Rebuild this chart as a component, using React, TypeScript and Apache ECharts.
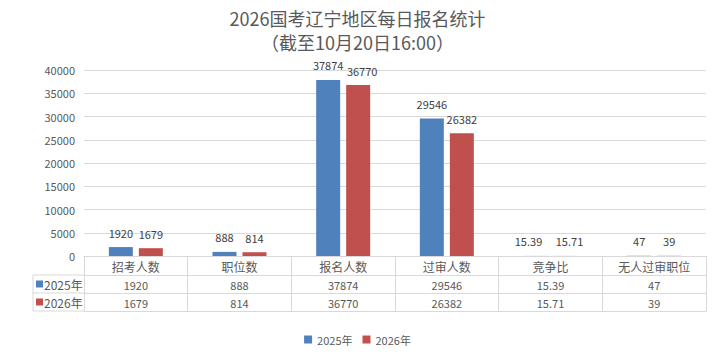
import React, { useEffect, useRef } from "react";
import * as echarts from "echarts";

const categories = ["招考人数", "职位数", "报名人数", "过审人数", "竞争比", "无人过审职位"];
const seriesNames = ["2025年", "2026年"];
const values2025 = [1920, 888, 37874, 29546, 15.39, 47];
const values2026 = [1679, 814, 36770, 26382, 15.71, 39];
const colors = ["#4F81BD", "#C0504D"];

// label nudges (px) that keep neighbouring value labels apart, as in the original
const labelNudge2025 = [0, 0, 0, 0, -7, 0];
const labelNudge2026 = [0, 0, 4, 0, 4, 0];

const FONT = "'Noto Sans CJK SC', 'Noto Sans', sans-serif";
const GRID_COLOR = "#d9d9d9";
const TEXT = "#595959";

export default function App() {
  const ref = useRef<HTMLDivElement>(null);
  useEffect(() => {
    if (!ref.current) return;
    const chart = echarts.init(ref.current, null, { renderer: "svg" });
    const tableAxis = (data: string[], offset: number, tickLen: number, fontSize: number, showLabel = true, showTick = true) => ({
      type: "category",
      data,
      position: "bottom",
      offset,
      gridIndex: 0,
      axisLine: { show: true, lineStyle: { color: GRID_COLOR, width: 1 } },
      axisTick: { show: showTick, length: tickLen, interval: 0, lineStyle: { color: GRID_COLOR } },
      axisLabel: {
        show: showLabel,
        interval: 0,
        margin: 1,
        lineHeight: 18,
        color: TEXT,
        fontSize,
        fontFamily: FONT,
      },
      splitLine: { show: false },
    });
    const rowLabel = (i: number, y: number) => [
      { type: "rect", shape: { x: 36, y: y - 3.5, width: 7, height: 7 }, style: { fill: colors[i] } },
      {
        type: "text",
        x: 44,
        y,
        style: { text: seriesNames[i], fill: TEXT, fontSize: 12, fontFamily: FONT, verticalAlign: "middle", align: "left" },
      },
    ];
    const nudges = [labelNudge2025, labelNudge2026];
    chart.setOption({
      animation: false,
      textStyle: { fontFamily: FONT },
      title: {
        text: "2026国考辽宁地区每日报名统计\n（截至10月20日16:00）",
        left: "center",
        top: 6,
        padding: 0,
        textStyle: { fontSize: 18, fontWeight: "normal", color: TEXT, lineHeight: 24, fontFamily: FONT },
      },
      legend: {
        data: seriesNames,
        bottom: 8,
        left: "center",
        icon: "rect",
        itemWidth: 8,
        itemHeight: 8,
        itemGap: 10,
        textStyle: { fontSize: 11, color: TEXT, fontFamily: FONT },
      },
      grid: { left: 84, right: 9, top: 70, bottom: 102, containLabel: false },
      xAxis: [
        tableAxis(categories, 0, 19, 12),
        tableAxis(values2025.map(String), 19, 18, 11),
        tableAxis(values2026.map(String), 37, 18, 11),
        tableAxis(categories, 55, 0, 11, false, false),
      ],
      yAxis: {
        type: "value",
        min: 0,
        max: 40000,
        interval: 5000,
        axisLine: { show: false },
        axisTick: { show: false },
        axisLabel: { color: TEXT, fontSize: 11, margin: 9, fontFamily: FONT, formatter: (v: number) => String(v) },
        splitLine: { lineStyle: { color: GRID_COLOR } },
      },
      series: [values2025, values2026].map((vals, i) => ({
        name: seriesNames[i],
        type: "bar",
        xAxisIndex: 0,
        data: vals.map((v, j) => (nudges[i][j] ? { value: v, label: { offset: [nudges[i][j], 0] } } : v)),
        barWidth: 24,
        barGap: "25%",
        itemStyle: { color: colors[i] },
        label: { show: true, position: "top", distance: 9, fontSize: 11, color: "#404040", fontFamily: FONT },
      })),
      graphic: [
        { type: "line", shape: { x1: 33, y1: 275, x2: 84, y2: 275 }, style: { stroke: GRID_COLOR, lineWidth: 1 } },
        { type: "line", shape: { x1: 33, y1: 293, x2: 84, y2: 293 }, style: { stroke: GRID_COLOR, lineWidth: 1 } },
        { type: "line", shape: { x1: 33, y1: 311, x2: 84, y2: 311 }, style: { stroke: GRID_COLOR, lineWidth: 1 } },
        { type: "line", shape: { x1: 33, y1: 275, x2: 33, y2: 311 }, style: { stroke: GRID_COLOR, lineWidth: 1 } },
        ...rowLabel(0, 284),
        ...rowLabel(1, 302),
      ],
    });
    return () => chart.dispose();
  }, []);
  return <div ref={ref} style={{ position: "fixed", left: 0, top: 0, width: 715, height: 358, background: "#fff" }} />;
}
